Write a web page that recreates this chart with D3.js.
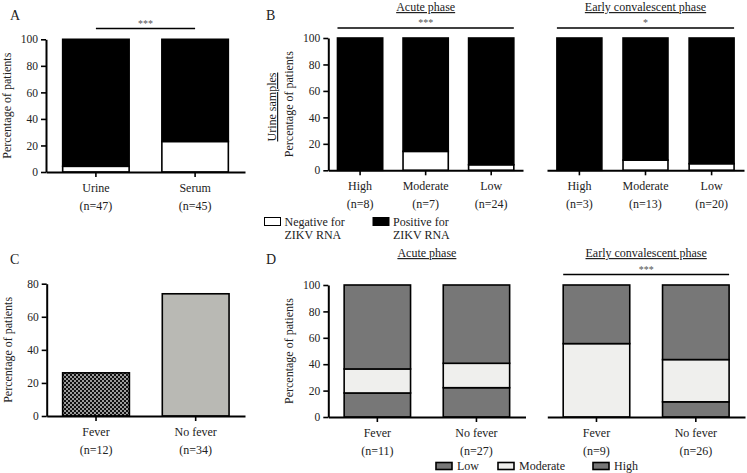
<!DOCTYPE html>
<html>
<head>
<meta charset="utf-8">
<script src="https://cdn.jsdelivr.net/npm/d3@7"></script>
<style>
html,body{margin:0;padding:0;background:#fff;}
svg, svg text{font-family:'Liberation Serif','DejaVu Serif',serif !important;}
</style>
</head>
<body>
<svg id="chart" width="747" height="473" font-family="Liberation Serif, DejaVu Serif, serif"></svg>
<script>
// ---------- DATA ----------
const ticks100 = [0, 20, 40, 60, 80, 100];
const ticks80 = [0, 20, 40, 60, 80];

const aCategories = ["Urine", "Serum"];
const aCounts = ["(n=47)", "(n=45)"];
const aNegative = [4.3, 23];

const bCategories = ["High", "Moderate", "Low"];
const bAcuteCounts = ["(n=8)", "(n=7)", "(n=24)"];
const bAcuteNegative = [0, 14.3, 4.2];
const bEarlyCounts = ["(n=3)", "(n=13)", "(n=20)"];
const bEarlyNegative = [0, 7.7, 5];

const cCategories = ["Fever", "No fever"];
const cCounts = ["(n=12)", "(n=34)"];
const cValues = [26.1, 73.9];

const dCategories = ["Fever", "No fever"];
const dAcuteCounts = ["(n=11)", "(n=27)"];
const dAcuteHigh = [18.2, 22.2];
const dAcuteModerate = [18.2, 18.5];
const dAcuteLow = [63.6, 59.3];
const dEarlyCounts = ["(n=9)", "(n=26)"];
const dEarlyHigh = [0, 11.5];
const dEarlyModerate = [55.6, 32.0];
const dEarlyLow = [44.4, 56.5];

const legendB = ["Negative for|ZIKV RNA", "Positive for|ZIKV RNA"];
const legendD = ["Low", "Moderate", "High"];

// ---------- STYLE ----------
const FONT = "Liberation Serif, DejaVu Serif, serif";
const DARK = "#777777", LIGHT = "#efefed", GREY = "#b9b9b4";
const svg = d3.select("#chart");
const defs = svg.append("defs");
const pat = defs.append("pattern").attr("id", "checker").attr("patternUnits", "userSpaceOnUse")
  .attr("width", 4).attr("height", 4);
pat.append("rect").attr("width", 4).attr("height", 4).attr("fill", "#9c9c9c");
pat.append("rect").attr("width", 2).attr("height", 2).attr("fill", "#111");
pat.append("rect").attr("x", 2).attr("y", 2).attr("width", 2).attr("height", 2).attr("fill", "#111");

function txt(sel, size) {
  return sel.append("text").attr("font-family", FONT).attr("font-size", size).attr("fill", "#222");
}

function panel(o) {
  const g = svg.append("g");
  const x = d3.scaleBand().domain(o.cats).range([o.x0, o.x1]).paddingInner(o.pi).paddingOuter(o.po);
  const y = d3.scaleLinear().domain([0, o.max]).range([o.yb, o.yt]);
  const keys = o.series.map((s, i) => "s" + i);
  const rows = o.cats.map((c, j) => {
    const r = {cat: c};
    o.series.forEach((s, i) => r["s" + i] = s.values[j]);
    return r;
  });
  const stacked = d3.stack().keys(keys)(rows);
  stacked.forEach((layer, i) => {
    g.append("g").selectAll("rect").data(layer).join("rect")
      .attr("x", d => x(d.data.cat))
      .attr("width", x.bandwidth())
      .attr("y", d => y(d[1]))
      .attr("height", d => Math.max(0, y(d[0]) - y(d[1])))
      .attr("fill", (d, j) => o.series[i].fills ? o.series[i].fills[j] : o.series[i].fill)
      .attr("stroke", "#000")
      .attr("stroke-width", 1.6)
      .attr("display", d => (d[1] - d[0]) > 0 ? null : "none");
  });
  const xa = g.append("g").attr("transform", `translate(0,${o.yb})`)
    .call(d3.axisBottom(x).tickSize(5).tickSizeOuter(0).tickFormat(""));
  xa.select(".domain").attr("stroke-width", 2);
  xa.selectAll(".tick line").attr("stroke-width", 1.6);
  o.cats.forEach((c, j) => {
    const cx = x(c) + x.bandwidth() / 2;
    txt(g, 12).attr("x", cx).attr("y", o.yb + 20).attr("text-anchor", "middle").text(c);
    txt(g, 12).attr("x", cx).attr("y", o.yb + 38).attr("text-anchor", "middle").text(o.counts[j]);
  });
  if (o.showY) {
    const ya = g.append("g").attr("transform", `translate(${o.x0},0)`)
      .call(d3.axisLeft(y).tickValues(o.ticks).tickSize(5).tickSizeOuter(0));
    ya.select(".domain").attr("stroke-width", 2);
    ya.selectAll(".tick line").attr("stroke-width", 1.6);
    ya.selectAll(".tick text").attr("font-size", 11.5).attr("fill", "#222")
      .attr("font-family", FONT).attr("x", -8);
    txt(g, 12).attr("transform", `translate(${o.ylabX},${(o.yt + o.yb) / 2}) rotate(-90)`)
      .attr("text-anchor", "middle").text("Percentage of patients");
  }
  if (o.title) {
    txt(g, 12).attr("x", (o.x0 + o.x1) / 2).attr("y", o.titleY).attr("text-anchor", "middle")
      .attr("text-decoration", "underline").text(o.title);
  }
  if (o.sig) {
    const a = x(o.cats[o.sigFrom]) + (o.sigCenter ? x.bandwidth() / 2 : 0);
    const b = x(o.cats[o.sigTo]) + (o.sigCenter ? x.bandwidth() / 2 : x.bandwidth());
    g.append("line").attr("x1", a).attr("x2", b).attr("y1", o.sigY).attr("y2", o.sigY)
      .attr("stroke", "#000").attr("stroke-width", 1.6);
    txt(g, 10).attr("x", (a + b) / 2).attr("y", o.sigY - 2).attr("text-anchor", "middle")
      .attr("fill", "#555").text(o.sig);
  }
  return {x, y};
}

// Panel A
panel({cats: aCategories, counts: aCounts, x0: 46, x1: 245, pi: 0.33, po: 0.168, yt: 39.3, yb: 172,
  max: 100, ticks: ticks100, showY: true, ylabX: 11,
  series: [{values: aNegative, fill: "#fff"}, {values: aNegative.map(v => 100 - v), fill: "#000"}],
  sig: "***", sigFrom: 0, sigTo: 1, sigCenter: true, sigY: 28.5});

// Panel B acute
panel({cats: bCategories, counts: bAcuteCounts, x0: 328.3, x1: 523, pi: 0.31, po: 0.14, yt: 38, yb: 170.3,
  max: 100, ticks: ticks100, showY: true, ylabX: 293,
  series: [{values: bAcuteNegative, fill: "#fff"}, {values: bAcuteNegative.map(v => 100 - v), fill: "#000"}],
  title: "Acute phase", titleY: 11,
  sig: "***", sigFrom: 0, sigTo: 2, sigCenter: false, sigY: 28});
// Panel B early
panel({cats: bCategories, counts: bEarlyCounts, x0: 547, x1: 744, pi: 0.32, po: 0.15, yt: 38, yb: 170.3,
  max: 100, ticks: ticks100, showY: false,
  series: [{values: bEarlyNegative, fill: "#fff"}, {values: bEarlyNegative.map(v => 100 - v), fill: "#000"}],
  title: "Early convalescent phase", titleY: 11,
  sig: "*", sigFrom: 0, sigTo: 2, sigCenter: false, sigY: 28});
txt(svg, 12).attr("transform", "translate(276,107) rotate(-90)").attr("text-anchor", "middle")
  .attr("text-decoration", "underline").text("Urine samples");

// Panel C
panel({cats: cCategories, counts: cCounts, x0: 46.7, x1: 245, pi: 0.33, po: 0.16, yt: 283.7, yb: 416,
  max: 80, ticks: ticks80, showY: true, ylabX: 12,
  series: [{values: cValues, fills: ["url(#checker)", GREY]}]});

// Panel D acute
panel({cats: dCategories, counts: dAcuteCounts, x0: 328.3, x1: 525.5, pi: 0.33, po: 0.16, yt: 285, yb: 417,
  max: 100, ticks: ticks100, showY: true, ylabX: 293,
  series: [{values: dAcuteHigh, fill: DARK}, {values: dAcuteModerate, fill: LIGHT}, {values: dAcuteLow, fill: DARK}],
  title: "Acute phase", titleY: 257});
// Panel D early
panel({cats: dCategories, counts: dEarlyCounts, x0: 547.3, x1: 745, pi: 0.33, po: 0.16, yt: 285, yb: 417,
  max: 100, ticks: ticks100, showY: false,
  series: [{values: dEarlyHigh, fill: DARK}, {values: dEarlyModerate, fill: LIGHT}, {values: dEarlyLow, fill: DARK}],
  title: "Early convalescent phase", titleY: 257,
  sig: "***", sigFrom: 0, sigTo: 1, sigCenter: false, sigY: 274.5});

// Panel letters
[["A", 10, 20], ["B", 266, 20], ["C", 10, 264], ["D", 266, 264]].forEach(([t, lx, ly]) =>
  txt(svg, 14).attr("x", lx).attr("y", ly).text(t));

// Legend B
const lgB = svg.append("g");
[{fill: "#fff", x: 264.5, label: legendB[0]}, {fill: "#000", x: 373, label: legendB[1]}].forEach(d => {
  lgB.append("rect").attr("x", d.x).attr("y", 217.5).attr("width", 16).attr("height", 8)
    .attr("fill", d.fill).attr("stroke", "#000").attr("stroke-width", 1);
  const parts = d.label.split("|");
  txt(lgB, 12).attr("x", d.x + 20).attr("y", 225.5).text(parts[0]);
  txt(lgB, 12).attr("x", d.x + 20).attr("y", 238.5).text(parts[1]);
});

// Legend D
const lgD = svg.append("g");
[{fill: DARK, x: 436}, {fill: LIGHT, x: 498}, {fill: DARK, x: 593}].forEach((d, i) => {
  lgD.append("rect").attr("x", d.x).attr("y", 462.5).attr("width", 16).attr("height", 7)
    .attr("fill", d.fill).attr("stroke", "#000").attr("stroke-width", 1.6);
  txt(lgD, 12).attr("x", d.x + 21).attr("y", 470).text(legendD[i]);
});
</script>
</body>
</html>
